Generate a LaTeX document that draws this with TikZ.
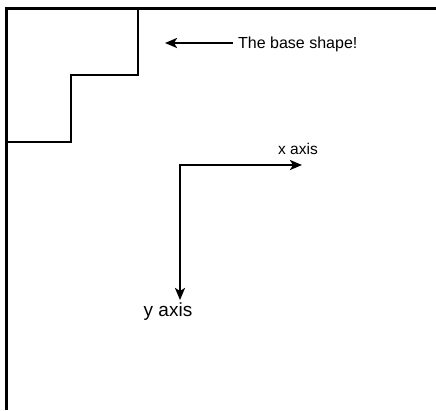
\documentclass[tikz,border=0pt]{standalone}
\usepackage{fontspec}
\setmainfont{Liberation Sans}
\usetikzlibrary{arrows.meta}
\begin{document}
\begin{tikzpicture}[x=1pt,y=-1pt,
  border/.style={line width=3.2pt,line join=miter},
  stair/.style={line width=1.2pt,line join=miter},
  axisline/.style={line width=2.6pt,line join=miter},
  arr/.style={axisline,-{Stealth[length=12pt,width=10pt,inset=3pt]}},
  lbl/.style={inner sep=0pt,anchor=base,font=\fontsize{16}{19}\selectfont}]
\useasboundingbox (0,0) rectangle (436,410);
\coordinate (tr) at (436,8.5);
\coordinate (tl) at (6.5,8.5);
\coordinate (bl) at (6.5,410);
\draw[border] (tr) -- (tl) -- (bl);
\coordinate (s1) at (138,8.5);
\coordinate (s2) at (138,75);
\coordinate (s3) at (71,75);
\coordinate (s4) at (71,142);
\coordinate (s5) at (6.5,142);
\draw[stair] (s1) -- (s2) -- (s3) -- (s4) -- (s5);
\node[lbl,anchor=base west] (base) at (238,48) {The base shape!};
\coordinate (b1) at (233,43);
\coordinate (b2) at (165,43);
\draw[arr] (b1) -- (b2);
\coordinate (o) at (180,165);
\coordinate (xe) at (302,165);
\coordinate (ye) at (180,300);
\draw[arr] (o) -- (xe);
\draw[arr] (o) -- (ye);
\draw[axisline] (xe) ++(-20,0) -- (o) -- ++(0,20);
\node[lbl,font=\fontsize{15.5}{18}\selectfont] (xl) at (298,154) {x axis};
\node[lbl,font=\fontsize{19}{22}\selectfont] (yl) at (168,316) {y axis};
\end{tikzpicture}
\end{document}
